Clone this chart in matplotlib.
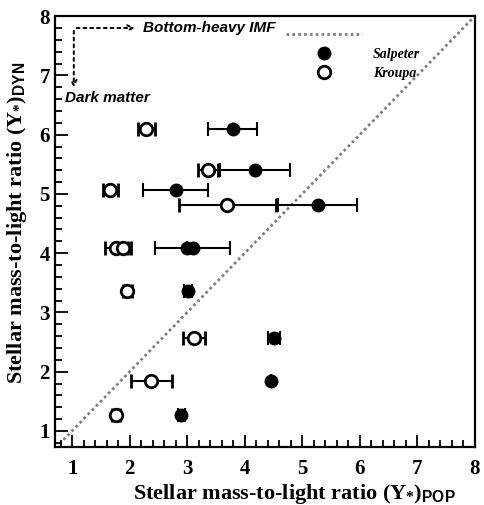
import numpy as np
import matplotlib.pyplot as plt
from matplotlib.lines import Line2D

plt.rcParams['font.family'] = ['Liberation Serif', 'DejaVu Serif']
plt.rcParams['mathtext.fontset'] = 'custom'
plt.rcParams['mathtext.rm'] = 'Liberation Serif:bold'
plt.rcParams['mathtext.bf'] = 'Liberation Serif:bold'
plt.rcParams['mathtext.it'] = 'Liberation Serif:bold:italic'
plt.rcParams['mathtext.sf'] = 'Liberation Sans:bold'

# Salpeter (relleno)
sal_x = [3.79, 4.18, 2.80, 5.27, 3.00, 3.10, 3.02, 4.51, 4.45, 2.90]
sal_xerr = [0.42, 0.61, 0.56, 0.69, 0.0, 0.65, 0.07, 0.11, 0.0, 0.06]
sal_y = [6.10, 5.40, 5.06, 4.82, 4.08, 4.08, 3.36, 2.56, 1.85, 1.27]

# Kroupa (vacío)
kro_x = [2.29, 3.36, 1.66, 3.70, 1.77, 1.89, 1.96, 3.12, 2.38, 1.76]
kro_xerr = [0.15, 0.17, 0.13, 0.84, 0.20, 0.14, 0.08, 0.19, 0.35, 0.07]
kro_y = [6.10, 5.40, 5.06, 4.82, 4.08, 4.08, 3.36, 2.56, 1.85, 1.27]

fig = plt.figure(figsize=(4.85, 5.05), dpi=100)
ax = fig.add_axes([0.113, 0.115, 0.866, 0.853])

dots = (0, (1, 1.1))
ax.plot([0.85, 8], [0.85, 8], ls=dots, color='#808080', lw=2)

ax.errorbar(sal_x, sal_y, xerr=sal_xerr, fmt='o', color='black', ms=9,
            capsize=5, elinewidth=1.5, capthick=1.5)
ax.errorbar(kro_x, kro_y, xerr=kro_xerr, fmt='o', color='black', mfc='white',
            mec='black', mew=2, ms=9, capsize=5, elinewidth=1.5, capthick=1.5)

# flechas
ax.annotate('', xy=(2.14, 7.8), xytext=(1.03, 7.8),
            arrowprops=dict(arrowstyle='->', ls=(0, (1.5, 2)), lw=1.4, color='black'))
ax.annotate('', xy=(1.03, 6.75), xytext=(1.03, 7.8),
            arrowprops=dict(arrowstyle='->', ls=(0, (1.5, 2)), lw=1.4, color='black'))
ax.text(2.24, 7.8, 'Bottom-heavy IMF', family='Liberation Sans', fontsize=11,
        fontweight='bold', style='italic', va='center')
ax.text(0.88, 6.62, 'Dark matter', family='Liberation Sans', fontsize=11,
        fontweight='bold', style='italic', va='center')

handles = [Line2D([], [], ls=dots, color='#808080', lw=2),
           Line2D([], [], ls='', marker='o', color='black', ms=9),
           Line2D([], [], ls='', marker='o', mfc='white', mec='black', mew=2, ms=9)]
ax.legend(handles, ['', 'Salpeter', 'Kroupa'], loc='upper right',
          bbox_to_anchor=(0.90, 1.0), frameon=False, handlelength=5.5,
          labelspacing=0.45, prop=dict(weight='bold', style='italic', size=10))

ax.set_xlim(0.7, 8)
ax.set_ylim(0.73, 8)
ax.set_xticks(range(1, 9))
ax.set_yticks(range(1, 9))
ax.set_xticks(np.arange(0.8, 8.01, 0.2), minor=True)
ax.set_yticks(np.arange(0.8, 8.01, 0.2), minor=True)
ax.tick_params(which='both', direction='in', top=False, right=False,
               labelsize=15, width=1.3)
ax.tick_params(which='major', length=9)
ax.tick_params(which='minor', length=5)
ax.tick_params(axis='x', pad=9)
for lab in ax.get_xticklabels() + ax.get_yticklabels():
    lab.set_fontweight('bold')
for s in ax.spines.values():
    s.set_linewidth(1.6)

ax.set_xlabel(r'Stellar mass-to-light ratio ($\Upsilon_{*}$)$_{\mathsf{POP}}$',
              fontsize=16, fontweight='bold')
ax.xaxis.set_label_coords(0.57, -0.082)
ax.set_ylabel(r'Stellar mass-to-light ratio ($\Upsilon_{*}$)$_{\mathsf{DYN}}$',
              fontsize=16, fontweight='bold')
ax.yaxis.set_label_coords(-0.062, 0.52)

plt.savefig('out.png', dpi=100)
